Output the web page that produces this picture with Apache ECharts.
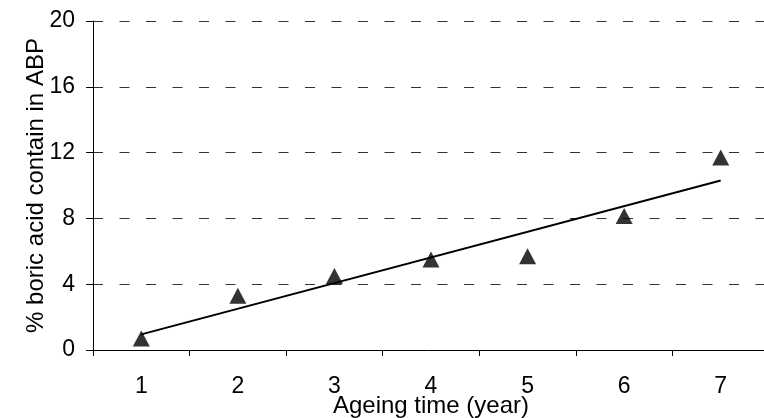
<!DOCTYPE html>
<html>
<head>
<meta charset="utf-8">
<script src="https://cdn.jsdelivr.net/npm/echarts@6/dist/echarts.min.js"></script>
<style>
  html, body { margin: 0; padding: 0; background: #fff; }
  #main { width: 764px; height: 418px; }
</style>
</head>
<body>
<div id="main"></div>
<script>
// ageing time in years
var years = ['1', '2', '3', '4', '5', '6', '7'];
// % boric acid measured (triangles)
var boricAcid = [0.7, 3.3, 4.5, 5.5, 5.7, 8.15, 11.7];
// linear trend line, only the end points at year 1 and year 7
var trendLine = [0.95, null, null, null, null, null, 10.3];
var yTicks = [0, 4, 8, 12, 16, 20];

var myChart = echarts.init(document.getElementById('main'));
var font = 'Liberation Sans, Arial, sans-serif';
option = {
    animation: false,
    backgroundColor: '#fff',
    grid: {
        left: 93,
        right: -5,
        top: 21,
        bottom: 68,
        containLabel: false,
        outerBoundsMode: 'none'
    },
    xAxis: {
        type: 'category',
        data: years,
        boundaryGap: true,
        name: 'Ageing time (year)',
        nameLocation: 'middle',
        nameGap: 44,
        nameMoveOverlap: false,
        nameTextStyle: { color: '#000', fontSize: 24, fontFamily: font },
        axisLine: { lineStyle: { color: '#000', width: 1 } },
        axisTick: { show: true, alignWithLabel: false, length: 6, lineStyle: { color: '#000' } },
        axisLabel: { color: '#000', fontSize: 23, fontFamily: font, margin: 25 },
        splitLine: { show: false }
    },
    yAxis: {
        type: 'value',
        min: yTicks[0],
        max: yTicks[yTicks.length - 1],
        interval: 4,
        name: '% boric acid contain in ABP',
        nameLocation: 'middle',
        nameGap: 45,
        nameMoveOverlap: false,
        nameTextStyle: { color: '#000', fontSize: 24, fontFamily: font },
        axisLine: { show: true, lineStyle: { color: '#000', width: 1 } },
        axisTick: { show: true, length: 7, lineStyle: { color: '#000' } },
        axisLabel: { color: '#000', fontSize: 23, fontFamily: font, margin: 18 },
        splitLine: {
            show: true,
            lineStyle: { color: '#333', width: 1, type: [10, 16.5] }
        }
    },
    series: [
        {
            name: 'Trend',
            type: 'line',
            data: trendLine,
            connectNulls: true,
            symbol: 'none',
            lineStyle: { color: '#000', width: 2 },
            z: 2
        },
        {
            name: 'Boric acid',
            type: 'scatter',
            data: boricAcid,
            symbol: 'triangle',
            symbolSize: [17, 16],
            itemStyle: { color: '#000' },
            z: 3
        }
    ]
};
myChart.setOption(option);
</script>
</body>
</html>
